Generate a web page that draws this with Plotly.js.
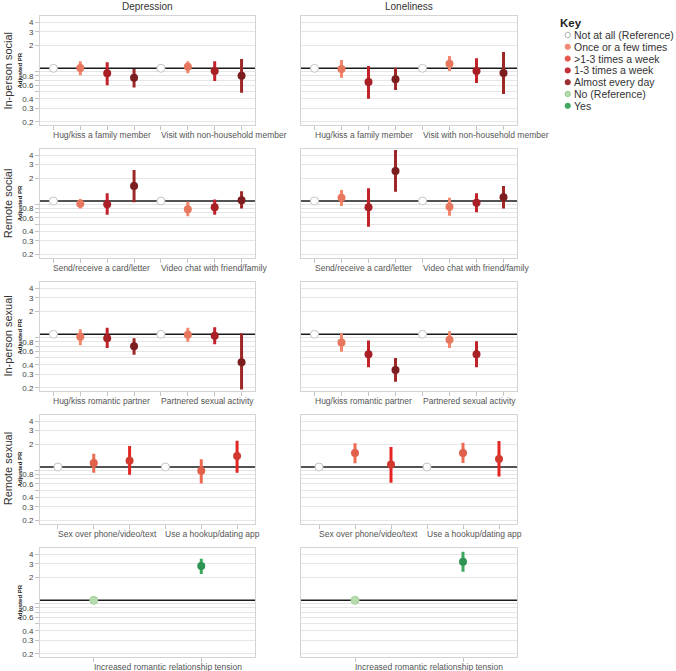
<!DOCTYPE html>
<html>
<head>
<meta charset="utf-8">
<script src="https://cdn.plot.ly/plotly-3.0.1.min.js"></script>
<style>html,body{margin:0;padding:0;background:#fff;}#chart{width:676px;height:671px;}</style>
</head>
<body>
<div id="chart"></div>
<script>
// ---------------- DATA ----------------
const colTitles = ['Depression', 'Loneliness'];
const rowTitles = ['In-person social', 'Remote social', 'In-person sexual', 'Remote sexual', ''];
const yTickVals = [0.2, 0.3, 0.4, 0.5, 0.6, 0.7, 0.8, 0.9, 2, 3, 4];
const yTickText = ['0.2', '0.3', '0.4', '', '0.6', '', '0.8', '', '2', '3', '4'];

const legendLabels = ['Not at all (Reference)', 'Once or a few times', '>1-3 times a week', '1-3 times a week', 'Almost every day', 'No (Reference)', 'Yes'];
const legendKeys = ['ref', 'once', 'gt13', 'wk', 'daily', 'no', 'yes'];

// Row 1: In-person social
const r1Groups = ['Hug/kiss a family member', 'Visit with non-household member'];
const r1Levels = ['ref', 'once', 'wk', 'daily', 'ref', 'once', 'wk', 'daily'];
const r1DepEst = [1, 1.01, 0.86, 0.75, 1, 1.05, 0.92, 0.80];
const r1DepLo  = [null, 0.81, 0.60, 0.56, null, 0.86, 0.68, 0.48];
const r1DepHi  = [null, 1.24, 1.20, 0.98, null, 1.24, 1.24, 1.32];
const r1LonEst = [1, 0.98, 0.66, 0.72, 1, 1.15, 0.92, 0.87];
const r1LonLo  = [null, 0.75, 0.40, 0.52, null, 0.92, 0.64, 0.46];
const r1LonHi  = [null, 1.28, 1.07, 1.02, null, 1.45, 1.35, 1.63];

// Row 2: Remote social
const r2Groups = ['Send/receive a card/letter', 'Video chat with friend/family'];
const r2Levels = ['ref', 'once', 'wk', 'daily', 'ref', 'once', 'wk', 'daily'];
const r2DepEst = [1, 0.92, 0.91, 1.57, 1, 0.78, 0.83, 1.02];
const r2DepLo  = [null, 0.80, 0.66, 0.96, null, 0.63, 0.66, 0.80];
const r2DepHi  = [null, 1.06, 1.26, 2.55, null, 0.98, 1.05, 1.34];
const r2LonEst = [1, 1.10, 0.83, 2.47, 1, 0.84, 0.95, 1.12];
const r2LonLo  = [null, 0.86, 0.46, 1.32, null, 0.64, 0.71, 0.80];
const r2LonHi  = [null, 1.39, 1.47, 4.65, null, 1.10, 1.26, 1.57];

// Row 3: In-person sexual
const r3Groups = ['Hug/kiss romantic partner', 'Partnered sexual activity'];
const r3Levels = ['ref', 'once', 'wk', 'daily', 'ref', 'once', 'wk', 'daily'];
const r3DepEst = [1, 0.93, 0.89, 0.70, 1, 0.99, 0.96, 0.43];
const r3DepLo  = [null, 0.72, 0.66, 0.54, null, 0.80, 0.74, 0.19];
const r3DepHi  = [null, 1.16, 1.22, 0.89, null, 1.22, 1.24, 1.03];
const r3LonEst = [1, 0.78, 0.55, 0.34, 1, 0.85, 0.55, null];
const r3LonLo  = [null, 0.59, 0.37, 0.24, null, 0.66, 0.37, null];
const r3LonHi  = [null, 1.03, 0.83, 0.49, null, 1.10, 0.81, null];

// Row 4: Remote sexual
const r4Groups = ['Sex over phone/video/text', 'Use a hookup/dating app'];
const r4Levels = ['ref', 'rs1', 'rs2', 'ref', 'rs1', 'rs2'];
const r4DepEst = [1, 1.13, 1.21, 1, 0.89, 1.39];
const r4DepLo  = [null, 0.84, 0.79, null, 0.61, 0.84];
const r4DepHi  = [null, 1.49, 1.88, null, 1.26, 2.21];
const r4LonEst = [1, 1.52, 1.08, 1, 1.53, 1.27];
const r4LonLo  = [null, 1.12, 0.62, null, 1.13, 0.75];
const r4LonHi  = [null, 2.04, 1.83, null, 2.08, 2.19];

// Row 5: Relationship tension
const r5Groups = ['Increased romantic relationship tension'];
const r5Levels = ['no', 'yes'];
const r5DepEst = [1, 2.81];
const r5DepLo  = [null, 2.21];
const r5DepHi  = [null, 3.50];
const r5LonEst = [1, 3.20];
const r5LonLo  = [null, 2.37];
const r5LonHi  = [null, 4.33];

// ---------------- STYLE ----------------
const FONT = 'Arial, "Liberation Sans", sans-serif';
const W = 676, H = 671;
const styles = {
  ref:   {fill: '#ffffff', line: '#c4c4c4', bar: '#c4c4c4'},
  once:  {fill: '#e8775f', line: '#e8775f', bar: '#f4866b'},
  gt13:  {fill: '#e4574e', line: '#e4574e', bar: '#e4574e'},
  wk:    {fill: '#a81f26', line: '#a81f26', bar: '#c2222a'},
  daily: {fill: '#7c1d1f', line: '#7c1d1f', bar: '#9e2828'},
  rs1:   {fill: '#e0604c', line: '#e0604c', bar: '#ee6a50'},
  rs2:   {fill: '#d23a30', line: '#d23a30', bar: '#e32622'},
  no:    {fill: '#b6dcae', line: '#a6d29c', bar: '#a6d29c'},
  yes:   {fill: '#2f9453', line: '#2f9453', bar: '#3aa85f'}
};
const legendStyles = {
  ref: {fill: '#ffffff', line: '#9a9a9a'}, once: {fill: '#f08a74', line: '#f08a74'},
  gt13: {fill: '#e4574e', line: '#e4574e'}, wk: {fill: '#c42e38', line: '#c42e38'},
  daily: {fill: '#9b3034', line: '#9b3034'}, no: {fill: '#b6dcae', line: '#8cc482'},
  yes: {fill: '#3ea862', line: '#3ea862'}
};

const rows = [
  {groups: r1Groups, levels: r1Levels, dep: [r1DepEst, r1DepLo, r1DepHi], lon: [r1LonEst, r1LonLo, r1LonHi]},
  {groups: r2Groups, levels: r2Levels, dep: [r2DepEst, r2DepLo, r2DepHi], lon: [r2LonEst, r2LonLo, r2LonHi]},
  {groups: r3Groups, levels: r3Levels, dep: [r3DepEst, r3DepLo, r3DepHi], lon: [r3LonEst, r3LonLo, r3LonHi]},
  {groups: r4Groups, levels: r4Levels, dep: [r4DepEst, r4DepLo, r4DepHi], lon: [r4LonEst, r4LonLo, r4LonHi]},
  {groups: r5Groups, levels: r5Levels, dep: [r5DepEst, r5DepLo, r5DepHi], lon: [r5LonEst, r5LonLo, r5LonHi]}
];

// layout geometry (pixels)
const colPx = [[40, 255], [301, 517]];
const rowTopPx = [16, 148.7, 282, 414.7, 548];
const rowHpx = 109.2;
const yRange = [Math.log10(0.2) - 3.5 / 76.4, Math.log10(4) + 6.3 / 76.4];

const traces = [];
const layout = {
  width: W, height: H, autosize: false,
  margin: {l: 0, r: 0, t: 0, b: 0},
  paper_bgcolor: '#fff', plot_bgcolor: '#fff',
  showlegend: false,
  font: {family: FONT, color: '#444', size: 8},
  annotations: [], shapes: []
};

rows.forEach((row, r) => {
  const n = row.levels.length;
  const idx = row.levels.map((_, i) => i);
  [row.dep, row.lon].forEach((ser, c) => {
    const id = r * 2 + c + 1;
    const sfx = id === 1 ? '' : String(id);
    const xa = 'x' + sfx, ya = 'y' + sfx;
    const top = rowTopPx[r], bot = top + rowHpx;
    layout['xaxis' + sfx] = {
      domain: [colPx[c][0] / W, colPx[c][1] / W],
      anchor: ya, range: [-0.5, n - 0.5],
      tickmode: 'array', tickvals: idx, ticktext: idx.map(() => ''),
      ticks: 'outside', ticklen: 4, tickcolor: '#c4c4c4', tickwidth: 1,
      showgrid: false, zeroline: false,
      showline: true, mirror: true, linecolor: '#d4d4d4', linewidth: 1,
      fixedrange: true
    };
    layout['yaxis' + sfx] = {
      domain: [1 - bot / H, 1 - top / H],
      anchor: xa, type: 'log', range: yRange,
      tickmode: 'array', tickvals: yTickVals, ticktext: yTickText,
      showticklabels: c === 0,
      ticks: c === 0 ? 'outside' : '', ticklen: 4, tickcolor: '#c4c4c4',
      tickfont: {size: 8, color: '#444', family: FONT},
      showgrid: true, gridcolor: '#e6e6e6', gridwidth: 1,
      zeroline: false, showline: true, mirror: true, linecolor: '#d4d4d4',
      fixedrange: true
    };
    // reference line at PR = 1
    layout.shapes.push({
      type: 'line', xref: xa, yref: ya, x0: -0.5, x1: n - 0.5, y0: 1, y1: 1,
      layer: 'below', line: {color: '#1a1a1a', width: 1.5}
    });
    // traces by level
    const [est, lo, hi] = ser;
    const uniq = [...new Set(row.levels)];
    uniq.forEach(lv => {
      const xs = [], ys = [], ep = [], em = [];
      row.levels.forEach((l, i) => {
        if (l !== lv || est[i] === null) return;
        xs.push(i); ys.push(est[i]);
        ep.push(hi[i] === null ? 0 : hi[i] - est[i]);
        em.push(lo[i] === null ? 0 : est[i] - lo[i]);
      });
      if (!xs.length) return;
      const st = styles[lv];
      const isRef = lv === 'ref' || lv === 'no';
      traces.push({
        type: 'scatter', mode: 'markers', x: xs, y: ys, xaxis: xa, yaxis: ya,
        hoverinfo: 'skip',
        marker: {size: 8, color: st.fill, line: {color: st.line, width: isRef ? 1 : 0}},
        error_y: isRef ? {visible: false} : {
          type: 'data', symmetric: false, array: ep, arrayminus: em,
          thickness: 3, width: 0, color: st.bar
        }
      });
    });
    // group labels below x axis
    const step = n / row.groups.length;
    row.groups.forEach((g, gi) => {
      layout.annotations.push({
        text: g, xref: xa, yref: 'paper', x: gi * step, y: 1 - bot / H,
        xanchor: 'left', yanchor: 'top', xshift: -2, yshift: -3, showarrow: false,
        font: {family: FONT, size: 8.5, color: '#555'}
      });
    });
    // Adjusted PR
    if (c === 0) {
      layout.annotations.push({
        text: '<b>Adjusted PR</b>', xref: 'paper', yref: 'paper',
        x: 20 / W, y: 1 - (top + rowHpx / 2) / H, textangle: -90,
        xanchor: 'center', yanchor: 'middle', showarrow: false,
        font: {family: FONT, size: 6, color: '#111'}
      });
      if (rowTitles[r]) {
        layout.annotations.push({
          text: rowTitles[r], xref: 'paper', yref: 'paper',
          x: 8 / W, y: 1 - (top + rowHpx / 2) / H, textangle: -90,
          xanchor: 'center', yanchor: 'middle', showarrow: false,
          font: {family: FONT, size: 11, color: '#333'}
        });
      }
    }
  });
});

// column titles
colTitles.forEach((t, c) => {
  layout.annotations.push({
    text: t, xref: 'paper', yref: 'paper',
    x: (colPx[c][0] + colPx[c][1]) / 2 / W, y: 1 - 6 / H,
    xanchor: 'center', yanchor: 'middle', showarrow: false,
    font: {family: FONT, size: 10, color: '#333'}
  });
});

// legend ("Key")
layout.annotations.push({
  text: '<b>Key</b>', xref: 'paper', yref: 'paper', x: 558 / W, y: 1 - 22.7 / H,
  xanchor: 'left', yanchor: 'middle', showarrow: false,
  font: {family: FONT, size: 11.5, color: '#222'}
});
legendLabels.forEach((lab, i) => {
  const yc = 35 + 11.8 * i;
  const ls = legendStyles[legendKeys[i]];
  layout.shapes.push({
    type: 'circle', xref: 'paper', yref: 'paper',
    x0: 565 / W, x1: 570.4 / W, y0: 1 - (yc + 2.7) / H, y1: 1 - (yc - 2.7) / H,
    fillcolor: ls.fill, line: {color: ls.line, width: 0.8}
  });
  layout.annotations.push({
    text: lab, xref: 'paper', yref: 'paper', x: 571.5 / W, y: 1 - yc / H,
    xanchor: 'left', yanchor: 'middle', showarrow: false,
    font: {family: FONT, size: 10.5, color: '#333'}
  });
});

Plotly.newPlot('chart', traces, layout, {staticPlot: true, displayModeBar: false});
</script>
</body>
</html>
